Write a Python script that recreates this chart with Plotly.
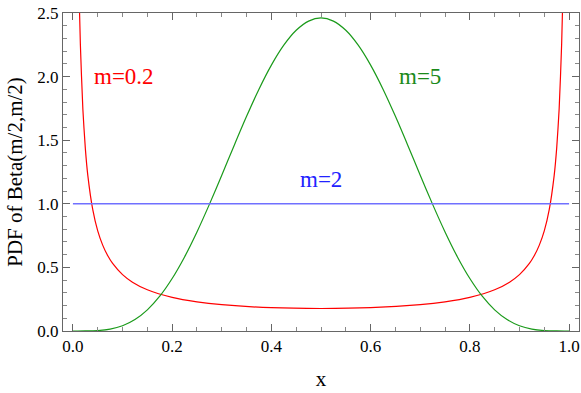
import plotly.graph_objects as go

red_x = [0.006, 0.01, 0.012, 0.015, 0.02, 0.025, 0.03, 0.04, 0.05, 0.06, 0.07, 0.08,
         0.1, 0.12, 0.15, 0.2, 0.25, 0.3, 0.4, 0.5,
         0.6, 0.7, 0.75, 0.8, 0.85, 0.88, 0.9, 0.92, 0.93, 0.94, 0.95, 0.96, 0.97,
         0.975, 0.98, 0.985, 0.988, 0.99, 0.994]
red_y = [5.1, 3.23, 2.745, 2.253, 1.746, 1.436, 1.224, 0.954, 0.787, 0.675, 0.593, 0.531,
         0.443, 0.384, 0.324, 0.264, 0.229, 0.207, 0.183, 0.177,
         0.183, 0.207, 0.229, 0.264, 0.324, 0.384, 0.443, 0.531, 0.593, 0.675, 0.787, 0.954, 1.224,
         1.436, 1.746, 2.253, 2.745, 3.23, 5.1]

# m=5 curve (green)
green_x = [0.0, 0.025, 0.05, 0.075, 0.1, 0.125, 0.15, 0.175, 0.2, 0.225, 0.25, 0.275,
           0.3, 0.325, 0.35, 0.375, 0.4, 0.425, 0.45, 0.475, 0.5,
           0.525, 0.55, 0.575, 0.6, 0.625, 0.65, 0.675, 0.7, 0.725, 0.75, 0.775,
           0.8, 0.825, 0.85, 0.875, 0.9, 0.925, 0.95, 0.975, 1.0]
green_y = [0.0, 0.0002, 0.0032, 0.0146, 0.0413, 0.0902, 0.1665, 0.2737, 0.4129, 0.5825, 0.7787, 0.9955,
           1.2252, 1.4591, 1.6876, 1.9010, 2.0902, 2.2468, 2.3639, 2.4364, 2.4609,
           2.4364, 2.3639, 2.2468, 2.0902, 1.9010, 1.6876, 1.4591, 1.2252, 0.9955, 0.7787, 0.5825,
           0.4129, 0.2737, 0.1665, 0.0902, 0.0413, 0.0146, 0.0032, 0.0002, 0.0]

# m=2 line (blue)
blue_x = [0.0, 1.0]
blue_y = [1.0, 1.0]

labels = ["m=0.2", "m=5", "m=2"]
label_x = [0.103, 0.70, 0.50]
label_y = [2.0, 2.0, 1.19]
label_colors = ["#ff0000", "#1a8a1a", "#2222ff"]

x_ticks = [0.0, 0.2, 0.4, 0.6, 0.8, 1.0]
x_ticktext = ["0.0", "0.2", "0.4", "0.6", "0.8", "1.0"]
y_ticks = [0.0, 0.5, 1.0, 1.5, 2.0, 2.5]
y_ticktext = ["0.0", "0.5", "1.0", "1.5", "2.0", "2.5"]

SERIF = "Liberation Serif, Times New Roman, serif"

fig = go.Figure()
fig.add_trace(go.Scatter(x=red_x, y=red_y, mode="lines",
                         line=dict(color="#ff0000", width=1.2, shape="spline", smoothing=0.6)))
fig.add_trace(go.Scatter(x=green_x, y=green_y, mode="lines",
                         line=dict(color="#1a9a1a", width=1.2, shape="spline", smoothing=0.8)))
fig.add_trace(go.Scatter(x=blue_x, y=blue_y, mode="lines",
                         line=dict(color="#7070ff", width=1.4)))

for t, lx, ly, c in zip(labels, label_x, label_y, label_colors):
    fig.add_annotation(x=lx, y=ly, text=t, showarrow=False,
                       font=dict(family=SERIF, size=23, color=c))

axis_common = dict(showgrid=False, zeroline=False, showline=True, linecolor="#666666",
                   linewidth=1, mirror="ticks", ticks="inside", ticklen=7, tickcolor="#666666",
                   tickwidth=1, automargin=False,
                   tickfont=dict(family=SERIF, size=17, color="#000000"),
                   title_font=dict(family=SERIF, size=21, color="#000000"))

fig.update_layout(
    width=581, height=393,
    margin=dict(l=63, r=2, t=13, b=62),
    font=dict(family=SERIF, size=17, color="#000000"),
    paper_bgcolor="white", plot_bgcolor="white",
    showlegend=False,
    xaxis=dict(range=[-0.02, 1.02], tickvals=x_ticks, ticktext=x_ticktext,
               minor=dict(dtick=0.05, tick0=0, ticks="inside", ticklen=4, tickcolor="#888888"),
               title=dict(text="x", standoff=15), **axis_common),
    yaxis=dict(range=[0, 2.5], tickvals=y_ticks, ticktext=y_ticktext,
               minor=dict(dtick=0.1, tick0=0, ticks="inside", ticklen=4, tickcolor="#888888"),
               title=dict(text="PDF of Beta(m/2,m/2)", standoff=8), **axis_common),
)

fig.write_html("out.html", config={"displayModeBar": False},
               post_script="document.body.style.margin='0';document.body.style.padding='0';")
